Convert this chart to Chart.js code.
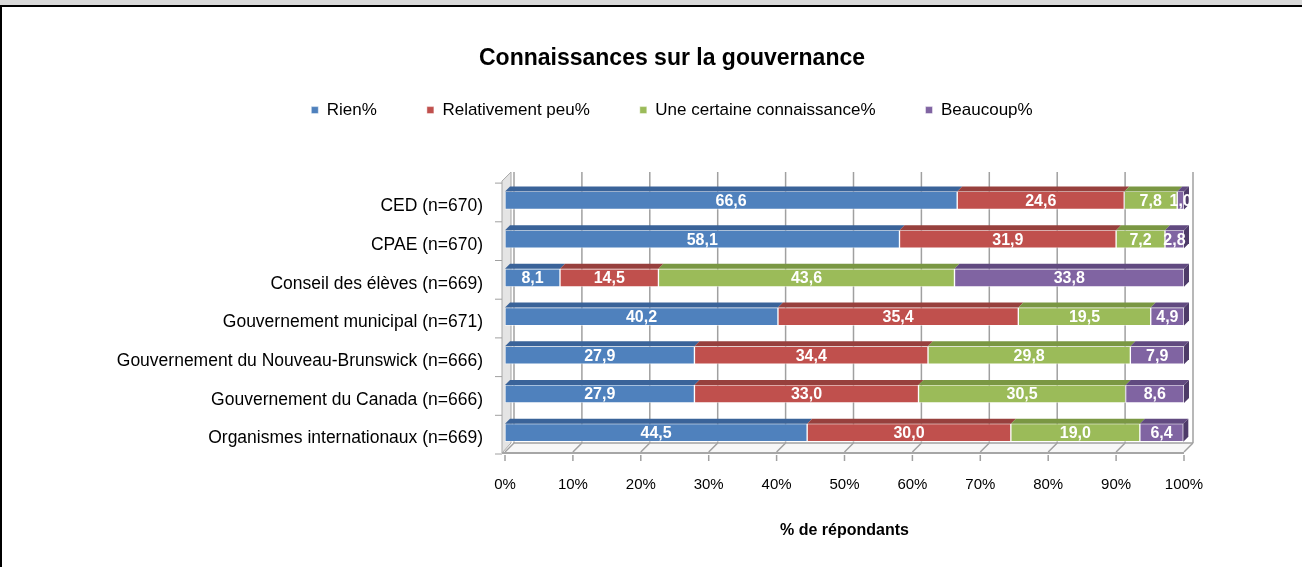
<!DOCTYPE html>
<html><head><meta charset="utf-8">
<script src="https://cdn.jsdelivr.net/npm/chart.js@4/dist/chart.umd.min.js"></script>
<style>html,body{margin:0;padding:0;background:#fff;overflow:hidden}canvas{display:block}</style>
</head><body>
<canvas id="c" width="1302" height="567"></canvas>
<script>
const categories = ['CED (n=670)', 'CPAE (n=670)', 'Conseil des élèves (n=669)', 'Gouvernement municipal (n=671)', 'Gouvernement du Nouveau-Brunswick (n=666)', 'Gouvernement du Canada (n=666)', 'Organismes internationaux (n=669)'];
const seriesNames = ['Rien%', 'Relativement peu%', 'Une certaine connaissance%', 'Beaucoup%'];
const rien = [66.6, 58.1, 8.1, 40.2, 27.9, 27.9, 44.5];
const relativementPeu = [24.6, 31.9, 14.5, 35.4, 34.4, 33.0, 30.0];
const uneCertaine = [7.8, 7.2, 43.6, 19.5, 29.8, 30.5, 19.0];
const beaucoup = [1.0, 2.8, 33.8, 4.9, 7.9, 8.6, 6.4];
const xTickValues = [0, 10, 20, 30, 40, 50, 60, 70, 80, 90, 100];
const xTickLabels = ['0%', '10%', '20%', '30%', '40%', '50%', '60%', '70%', '80%', '90%', '100%'];
const chartTitle = 'Connaissances sur la gouvernance';
const xAxisTitle = '% de répondants';

const frontColors = ['#4F81BD', '#C0504D', '#9BBB59', '#8064A2'];
const topColors = ['#3A6399', '#97403D', '#7A9743', '#614A80'];
const sideColors = ['#2F5280', '#7E3331', '#647D36', '#4E3B69'];
const FONT = '"Liberation Sans", Arial, sans-serif';
const DX = 9, DY = 9, BD = 5;

const seriesValues = [rien, relativementPeu, uneCertaine, beaucoup];
const datasets = seriesValues.map((vals, i) => ({
  label: seriesNames[i],
  data: vals,
  backgroundColor: frontColors[i],
  borderColor: 'rgba(255,255,255,0.45)',
  borderWidth: 1,
  borderSkipped: false,
  barThickness: 18
}));

function line(ctx, x1, y1, x2, y2) { ctx.beginPath(); ctx.moveTo(x1, y1); ctx.lineTo(x2, y2); ctx.stroke(); }

const deco = {
  id: 'deco',
  beforeDraw(chart) {
    const ctx = chart.ctx;
    ctx.save();
    ctx.fillStyle = '#fff'; ctx.fillRect(0, 0, chart.width, chart.height);
    ctx.fillStyle = '#D9D9D9'; ctx.fillRect(0, 0, chart.width, 5);
    ctx.fillStyle = '#000'; ctx.fillRect(0, 5, chart.width, 2); ctx.fillRect(0, 5, 2, chart.height);
    ctx.restore();
  },
  beforeDatasetsDraw(chart) {
    const ctx = chart.ctx;
    const {left: L, right: R, top: T, bottom: B} = chart.chartArea;
    const xs = chart.scales.x, ys = chart.scales.y;
    ctx.save();
    ctx.fillStyle = '#F7F7F7';
    ctx.beginPath(); ctx.moveTo(L, B); ctx.lineTo(R, B); ctx.lineTo(R + DX, B - DY); ctx.lineTo(L + DX, B - DY); ctx.closePath(); ctx.fill();
    ctx.fillStyle = '#E4E4E4'; ctx.strokeStyle = '#A6A6A6'; ctx.lineWidth = 1;
    ctx.beginPath(); ctx.moveTo(L - 3, B + 1); ctx.lineTo(L - 3, T); ctx.lineTo(L - 3 + DX, T - DY); ctx.lineTo(L - 3 + DX, B - DY); ctx.closePath(); ctx.fill(); ctx.stroke();
    ctx.strokeStyle = '#A0A0A0'; ctx.lineWidth = 1.5;
    xTickValues.forEach(v => {
      const x = xs.getPixelForValue(v);
      line(ctx, x + DX, T - DY, x + DX, B - DY);
      line(ctx, x, B, x + DX, B - DY);
      line(ctx, x, B + 3, x, B + 9);
    });
    line(ctx, L + DX, B - DY, R + DX, B - DY);
    ctx.lineWidth = 2; ctx.strokeStyle = '#A6A6A6';
    line(ctx, L - 3, B + 1, R, B + 1);
    ctx.lineWidth = 1; ctx.strokeStyle = '#A0A0A0';
    for (let i = 0; i <= categories.length; i++) {
      const y = ys.getPixelForValue(i - 0.5) + 2;
      line(ctx, L - 10, y, L - 3, y);
    }
    ctx.restore();
  },
  afterDatasetsDraw(chart) {
    const ctx = chart.ctx;
    const R = chart.chartArea.right;
    ctx.save();
    const n = chart.data.datasets.length;
    for (let d = 0; d < n; d++) {
      const meta = chart.getDatasetMeta(d);
      meta.data.forEach((bar) => {
        const p = bar.getProps(['x', 'y', 'base', 'height'], true);
        const l = Math.min(p.x, p.base), r = Math.max(p.x, p.base);
        const t = p.y - p.height / 2, b = p.y + p.height / 2;
        ctx.fillStyle = topColors[d];
        ctx.beginPath(); ctx.moveTo(l, t); ctx.lineTo(r, t); ctx.lineTo(r + BD, t - BD); ctx.lineTo(l + BD, t - BD); ctx.closePath(); ctx.fill();
        if (d === n - 1) {
          ctx.fillStyle = sideColors[d];
          ctx.beginPath(); ctx.moveTo(r, t); ctx.lineTo(r + BD, t - BD); ctx.lineTo(r + BD, b - BD); ctx.lineTo(r, b); ctx.closePath(); ctx.fill();
        }
      });
    }
    ctx.beginPath(); ctx.rect(0, 0, R + 6, chart.height); ctx.clip();
    ctx.fillStyle = '#fff'; ctx.font = 'bold 16px ' + FONT;
    ctx.textAlign = 'center'; ctx.textBaseline = 'middle';
    for (let d = 0; d < n; d++) {
      const meta = chart.getDatasetMeta(d);
      meta.data.forEach((bar, i) => {
        const p = bar.getProps(['x', 'y', 'base'], true);
        const v = chart.data.datasets[d].data[i];
        ctx.fillText(v.toFixed(1).replace('.', ','), (p.x + p.base) / 2, p.y + 1);
      });
    }
    ctx.restore();
  }
};

new Chart(document.getElementById('c'), {
  type: 'bar',
  data: { labels: categories, datasets },
  options: {
    indexAxis: 'y',
    responsive: false,
    animation: false,
    devicePixelRatio: 1,
    layout: { padding: { left: 60, right: 18, top: 0, bottom: 0 } },
    scales: {
      x: {
        stacked: true, min: 0, max: 100,
        afterBuildTicks: s => { s.ticks = xTickValues.map(v => ({ value: v })); },
        ticks: { callback: (v) => xTickLabels[xTickValues.indexOf(v)], padding: 16, maxRotation: 0, autoSkip: false, font: { family: FONT, size: 15 }, color: '#000' },
        grid: { display: false }, border: { display: false },
        title: { display: true, text: xAxisTitle, color: '#000', font: { family: FONT, size: 16, weight: 'bold' }, padding: { top: 0, bottom: 27 } },
        afterFit: s => { s.height = 115; }
      },
      y: {
        stacked: true,
        ticks: { padding: 14, labelOffset: 6, font: { family: FONT, size: 17.5 }, color: '#000' },
        grid: { display: false }, border: { display: false },
        afterFit: s => { s.width = 445; }
      },
      x2: {
        type: 'linear', position: 'top', display: true,
        ticks: { display: false }, grid: { display: false }, border: { display: false },
        afterFit: s => { s.height = 52.5; }
      },
      y2: {
        type: 'linear', position: 'right', display: true,
        ticks: { display: false }, grid: { display: false }, border: { display: false },
        afterFit: s => { s.width = 100; }
      }
    },
    plugins: {
      title: { display: true, text: chartTitle, color: '#000', font: { family: FONT, size: 23, weight: 'bold' }, padding: { top: 45, bottom: -21 } },
      legend: { display: true, labels: { boxWidth: 7, boxHeight: 7, padding: 50, color: '#000', font: { family: FONT, size: 17 } } },
      tooltip: { enabled: false }
    }
  },
  plugins: [deco]
});
</script>
</body></html>
